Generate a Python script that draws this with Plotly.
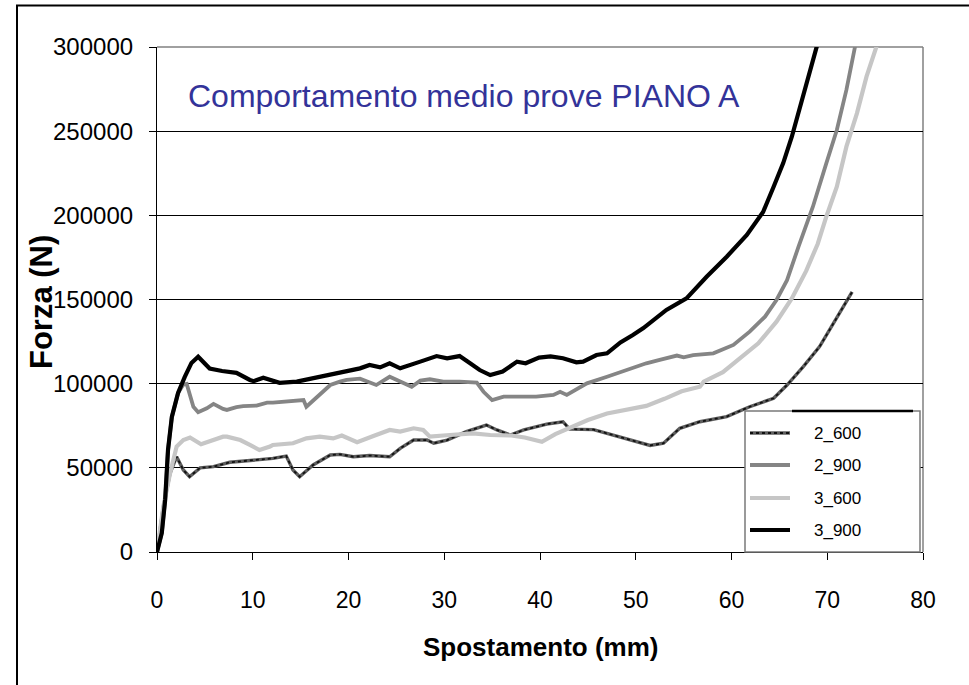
import plotly.graph_objects as go

# ---------------- data ----------------
x_2_600 = [0, 0.66, 1.36, 2.05, 2.75, 3.4, 4.5, 5.9, 7.6, 9.7, 10.4, 12.1, 13.5, 14.2, 14.9, 16.3,
           18.1, 19.1, 20.5, 22.2, 24.3, 25.4, 26.8, 28.2, 28.9, 30.3, 32.3, 33.7, 34.4, 35.5,
           36.9, 38.3, 40.7, 42.4, 43.1, 45.6, 47.7, 49.7, 51.5, 52.9, 53.9, 54.6, 56.7, 59.5,
           61.9, 64.4, 65.8, 67.5, 69.2, 70.6, 71.3, 72.6]
f_2_600 = [0, 26900, 46700, 56600, 48700, 44700, 50000, 50700, 53300, 54200, 54600, 55600, 57000,
           48700, 44700, 51700, 57600, 58000, 56600, 57300, 56600, 61600, 66500, 66500, 64600,
           66500, 71500, 74400, 75400, 72500, 69500, 72500, 76000, 77400, 73000, 72700, 69500,
           66500, 63300, 64600, 69500, 73500, 77400, 80400, 86300, 91300, 99200, 110100, 122000,
           135500, 141800, 154500]

x_2_900 = [0, 0.5, 0.85, 1.15, 1.55, 2.2, 2.75, 3.1, 3.8, 4.3, 5.2, 5.9, 6.9, 7.3, 8.3, 9.0, 10.4,
           11.5, 12.1, 13.9, 15.3, 15.6, 16.7, 18.1, 19.1, 19.8, 21.2, 22.9, 24.3, 25.4, 26.6,
           27.5, 28.5, 29.9, 31.6, 33.4, 34.1, 35.0, 36.2, 37.6, 39.6, 41.4, 42.1, 42.8, 44.9,
           47.0, 49.1, 50.4, 51.1, 52.5, 54.3, 55.0, 56.0, 58.1, 60.2, 61.9, 63.5, 64.7, 65.8,
           67.0, 68.5, 69.9, 71.0, 72.0, 72.9, 73.0]
f_2_900 = [0, 11300, 30900, 60600, 80200, 94500, 99500, 99800, 86300, 83000, 85400, 88000, 85000,
           84400, 86000, 86700, 87000, 88700, 88700, 89300, 90300, 86300, 92300, 99200, 101200,
           102200, 103000, 99200, 104100, 101200, 98200, 101800, 102600, 101200, 101200, 100600,
           95200, 90300, 92300, 92300, 92300, 93300, 95200, 93300, 100200, 104100, 108100,
           110500, 112100, 114100, 116700, 115700, 117000, 118000, 123000, 130900, 139800,
           149700, 161500, 181400, 205100, 230900, 250700, 274500, 300200, 303000]

x_3_600 = [0, 0.66, 1.36, 2.05, 2.75, 3.45, 4.6, 5.9, 6.9, 7.3, 8.3, 8.7, 9.7, 10.7, 11.8, 12.1,
           14.2, 15.6, 17.0, 18.4, 19.3, 20.9, 22.6, 24.3, 25.4, 26.8, 27.8, 28.5, 30.6, 33.0,
           34.8, 37.0, 38.4, 40.2, 41.6, 43.2, 45.0, 47.0, 49.1, 51.1, 53.0, 54.8, 56.7, 57.1,
           59.1, 60.7, 62.8, 64.7, 66.3, 67.8, 69.0, 69.9, 71.0, 72.0, 73.1, 74.1, 75.2, 75.3]
f_3_600 = [0, 26900, 46700, 62600, 66500, 68000, 64000, 66900, 68500, 68500, 67500, 66500, 63600,
           60600, 62600, 63600, 64600, 67500, 68500, 67500, 69200, 65200, 68900, 72500, 71500,
           73500, 72500, 68500, 69500, 70500, 69500, 69200, 68000, 65500, 70000, 74000, 78400,
           82300, 84900, 86800, 91000, 95500, 98200, 101200, 106800, 114100, 124000, 136800,
           150600, 167000, 183000, 199200, 217000, 240800, 260600, 282400, 300200, 303000]

x_3_900 = [0, 0.5, 0.85, 1.15, 1.55, 2.2, 2.9, 3.6, 4.3, 5.5, 6.8, 8.3, 9.7, 10.1, 11.1, 12.8,
           14.6, 16.3, 18.1, 19.8, 21.2, 22.2, 23.3, 24.3, 25.4, 27.5, 29.2, 30.3, 31.6, 32.7,
           33.7, 34.8, 36.1, 37.6, 38.5, 39.9, 41.1, 42.4, 43.8, 44.5, 45.9, 47.0, 48.4, 49.7,
           50.8, 53.2, 55.3, 57.4, 59.5, 61.6, 63.3, 64.4, 65.4, 66.3, 67.2, 68.0, 68.9, 69.0]
f_3_900 = [0, 11300, 30900, 60600, 80200, 94500, 104000, 112300, 116000, 109000, 107500, 106400,
           102200, 101500, 103500, 100500, 101200, 103200, 105100, 107700, 109100, 111100,
           109700, 112100, 109100, 113100, 116400, 115100, 116400, 112100, 108100, 105100,
           107200, 113100, 112100, 115500, 116200, 115100, 112700, 113100, 117000, 118000,
           124500, 128900, 133000, 143800, 150700, 163500, 175400, 188300, 202000, 217000,
           231000, 246700, 264500, 282400, 300200, 303000]

series_names = ["2_600", "2_900", "3_600", "3_900"]
x_ticks = [0, 10, 20, 30, 40, 50, 60, 70, 80]
y_ticks = [0, 50000, 100000, 150000, 200000, 250000, 300000]

title_text = "Comportamento medio prove PIANO A"
x_title = "Spostamento (mm)"
y_title = "Forza (N)"

# ---------------- layout geometry ----------------
W, H = 969, 685
L, R, T, B = 157, 923, 47, 552


def px(xp):
    return (xp - L) / (R - L)


def py(yp):
    return (B - yp) / (B - T)


FONT = "Liberation Sans, Arial, sans-serif"

DOT_BASE = "#5e5e5e"
DOT_TOP = "#111111"
C_2_900 = "#858585"
C_3_600 = "#c6c6c6"
C_3_900 = "#000000"

fig = go.Figure()
# 2_600: textured dark line (grey base + black dots)
fig.add_trace(go.Scatter(x=x_2_600, y=f_2_600, mode="lines", name=series_names[0],
                         line=dict(color=DOT_BASE, width=3.4), showlegend=False))
fig.add_trace(go.Scatter(x=x_2_600, y=f_2_600, mode="lines", name=series_names[0],
                         line=dict(color=DOT_TOP, width=1.8, dash="dot"), showlegend=False))
fig.add_trace(go.Scatter(x=x_2_900, y=f_2_900, mode="lines", name=series_names[1],
                         line=dict(color=C_2_900, width=3.8), showlegend=False))
fig.add_trace(go.Scatter(x=x_3_600, y=f_3_600, mode="lines", name=series_names[2],
                         line=dict(color=C_3_600, width=4.2), showlegend=False))
fig.add_trace(go.Scatter(x=x_3_900, y=f_3_900, mode="lines", name=series_names[3],
                         line=dict(color=C_3_900, width=4.2), showlegend=False))

shapes = []
# outer frame (extends beyond the visible page on the right/bottom)
shapes.append(dict(type="rect", xref="paper", yref="paper",
                   x0=px(17), x1=px(W + 40), y0=py(H + 40), y1=py(5.5),
                   line=dict(color="#000000", width=2), fillcolor="rgba(0,0,0,0)", layer="above"))
# plot area top / right border in grey
shapes.append(dict(type="line", xref="paper", yref="paper", x0=0, x1=1, y0=1, y1=1,
                   line=dict(color="#808080", width=1.5), layer="between"))
shapes.append(dict(type="line", xref="paper", yref="paper", x0=1, x1=1, y0=0, y1=1,
                   line=dict(color="#808080", width=1.5), layer="between"))

# legend box
LX0, LX1, LY0, LY1 = 745, 920, 411, 552
shapes.append(dict(type="rect", xref="paper", yref="paper",
                   x0=px(LX0), x1=px(LX1), y0=py(LY1), y1=py(LY0),
                   line=dict(color="#7a7a7a", width=1.5), fillcolor="white", layer="above"))
shapes.append(dict(type="line", xref="paper", yref="paper",
                   x0=px(792), x1=px(913), y0=py(LY0), y1=py(LY0),
                   line=dict(color="#000000", width=2.5), layer="above"))

legend_rows = [433, 465, 498, 530]
legend_styles = [(DOT_BASE, 3.4, "solid"), (C_2_900, 3.8, "solid"),
                 (C_3_600, 4.2, "solid"), (C_3_900, 4.2, "solid")]
annotations = []
for name, yy, (col, wd, ds) in zip(series_names, legend_rows, legend_styles):
    shapes.append(dict(type="line", xref="paper", yref="paper",
                       x0=px(750), x1=px(790), y0=py(yy), y1=py(yy),
                       line=dict(color=col, width=wd, dash=ds), layer="above"))
    if name == "2_600":
        shapes.append(dict(type="line", xref="paper", yref="paper",
                           x0=px(750), x1=px(790), y0=py(yy), y1=py(yy),
                           line=dict(color=DOT_TOP, width=1.8, dash="dot"), layer="above"))
    annotations.append(dict(text=name, xref="paper", yref="paper", x=px(812), y=py(yy),
                            xanchor="left", yanchor="middle", showarrow=False,
                            font=dict(family=FONT, size=17, color="#000000")))

# chart title inside plot
annotations.append(dict(text=title_text, xref="paper", yref="paper", x=px(186), y=py(96),
                        xanchor="left", yanchor="middle", showarrow=False,
                        font=dict(family=FONT, size=32, color="#333399")))
# axis titles
annotations.append(dict(text="<b>" + x_title + "</b>", xref="paper", yref="paper",
                        x=px(540), y=py(647), xanchor="center", yanchor="middle",
                        showarrow=False, font=dict(family=FONT, size=26, color="#000000")))
annotations.append(dict(text="<b>" + y_title + "</b>", xref="paper", yref="paper",
                        x=px(41), y=py(302), xanchor="center", yanchor="middle",
                        textangle=-90, showarrow=False,
                        font=dict(family=FONT, size=31, color="#000000")))

fig.update_layout(
    width=W, height=H,
    margin=dict(l=L, r=W - R, t=T, b=H - B, pad=0),
    paper_bgcolor="white", plot_bgcolor="white",
    showlegend=False,
    shapes=shapes, annotations=annotations,
    font=dict(family=FONT, color="#000000"),
)
fig.update_xaxes(range=[0, 80], tickvals=x_ticks, ticktext=[str(v) for v in x_ticks],
                 showgrid=False, zeroline=False, showline=True, linecolor="#000000", linewidth=1.2,
                 ticks="outside", ticklen=7, tickcolor="#000000", tickwidth=1,
                 ticklabelstandoff=20, tickfont=dict(family=FONT, size=23, color="#000000"))
fig.update_yaxes(range=[0, 300000], tickvals=y_ticks, ticktext=[str(v) for v in y_ticks],
                 showgrid=True, gridcolor="#000000", gridwidth=1, zeroline=False,
                 showline=True, linecolor="#000000", linewidth=1.2,
                 ticks="outside", ticklen=7, tickcolor="#000000", tickwidth=1,
                 ticklabelstandoff=11, tickfont=dict(family=FONT, size=24, color="#000000"))

fig.write_html("out.html")
